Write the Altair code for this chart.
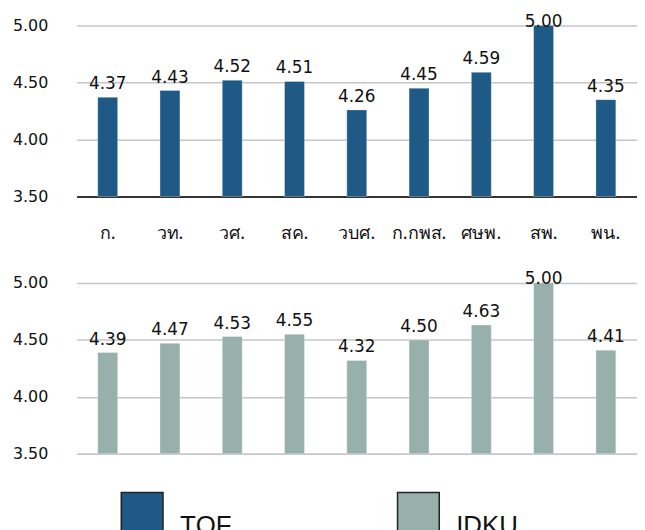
import altair as alt
import pandas as pd

categories = ["ก.", "วท.", "วศ.", "สค.", "วบศ.", "ก.กพส.", "ศษพ.", "สพ.", "พน."]
tqf_values = [4.37, 4.43, 4.52, 4.51, 4.26, 4.45, 4.59, 5.00, 4.35]
idku_values = [4.39, 4.47, 4.53, 4.55, 4.32, 4.50, 4.63, 5.00, 4.41]
series_names = ["TQF", "IDKU"]
series_colors = ["#1F5A87", "#97B0AC"]
y_ticks = [3.5, 4.0, 4.5, 5.0]

rows = []
for c, v in zip(categories, tqf_values):
    rows.append({"cat": c, "value": v, "series": "TQF"})
for c, v in zip(categories, idku_values):
    rows.append({"cat": c, "value": v, "series": "IDKU"})
df = pd.DataFrame(rows)

FONT = "DejaVu Sans"
W, H = 564, 172

color_scale = alt.Scale(domain=series_names, range=series_colors)
legend = alt.Legend(
    title=None,
    orient="none",
    direction="horizontal",
    legendX=44,
    legendY=469,
    symbolType="square",
    symbolSize=1764,
    symbolStrokeColor="#222222",
    symbolStrokeWidth=1.5,
    symbolOpacity=1,
    labelFont="Liberation Sans",
    labelFontSize=26,
    labelColor="#111111",
    labelBaseline="top",
    labelOffset=16,
    columnPadding=164,
    labelLimit=200,
)


def panel(name, show_labels, domain_color):
    base = alt.Chart(df).transform_filter(alt.datum.series == name).transform_calculate(
        labelpos="min(datum.value, 4.92)"
    )
    x = alt.X(
        "cat:N",
        sort=categories,
        title=None,
        scale=alt.Scale(paddingInner=0.68, paddingOuter=0.34),
        axis=alt.Axis(
            labels=show_labels,
            ticks=False,
            domainColor=domain_color,
            domainWidth=1.5,
            labelAngle=0,
            labelFont="Noto Sans",
            labelFontSize=18,
            labelColor="#111111",
            labelPadding=28,
        ),
    )
    y_scale = alt.Scale(domain=[3.5, 5.0], nice=False, zero=False)
    bars = base.mark_bar(stroke="#FFFFFF", strokeWidth=0.6, strokeOpacity=0.5).encode(
        x=x,
        y=alt.Y(
            "value:Q",
            scale=y_scale,
            title=None,
            axis=alt.Axis(
                values=y_ticks,
                format=".2f",
                domain=False,
                ticks=False,
                grid=True,
                gridColor="#C6C6C6",
                gridWidth=1.5,
                labelFont=FONT,
                labelFontSize=16,
                labelColor="#111111",
                labelPadding=29,
            ),
        ),
        y2=alt.datum(3.5),
        color=alt.Color("series:N", scale=color_scale, legend=legend),
    )
    text = base.mark_text(
        baseline="alphabetic", dy=-8, font=FONT, fontSize=17, color="#111111"
    ).encode(
        x=alt.X("cat:N", sort=categories),
        y=alt.Y("labelpos:Q", scale=y_scale),
        text=alt.Text("value:Q", format=".2f"),
    )
    return alt.layer(bars, text).properties(width=W, height=H)


top = panel("TQF", True, "#000000")
bottom = panel("IDKU", False, "#C6C6C6")

chart = (
    alt.vconcat(top, bottom, spacing=87, bounds="flush")
    .resolve_scale(x="independent")
    .properties(padding={"left": 4, "top": 3, "right": 0, "bottom": 0})
    .configure_view(stroke=None)
)

chart.save("out.html", embed_options={"renderer": "svg", "actions": False})
